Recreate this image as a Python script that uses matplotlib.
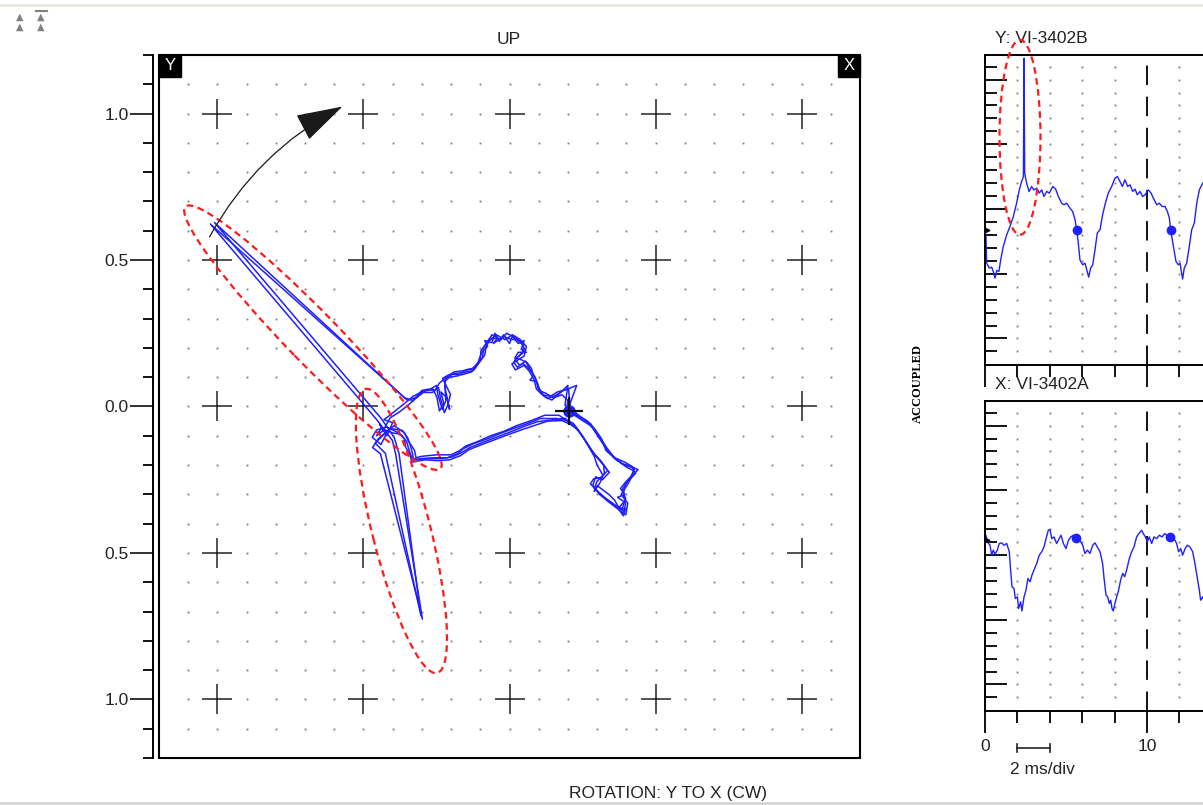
import numpy as np
import matplotlib
matplotlib.use("Agg")
import matplotlib.pyplot as plt
from matplotlib.patches import Ellipse, Rectangle, FancyArrowPatch
from matplotlib.lines import Line2D
from matplotlib.transforms import blended_transform_factory

plt.rcParams["font.family"] = ["Liberation Sans", "DejaVu Sans"]

BLUE = "#2020ff"
RED = "#ff1a1a"

# orbit trace (x, y), four revolutions
orbit_pass1 = np.array([
    (-0.432, -0.082), (-0.415, -0.050), (-0.408, -0.038), (-0.380, -0.021), (-0.349, 0.003),
    (-0.322, 0.027), (-0.295, 0.048), (-0.264, 0.048), (-0.243, 0.065), (-0.236, 0.027),
    (-0.223, -0.021), (-0.212, 0.003), (-0.202, 0.041), (-0.229, 0.096), (-0.212, 0.106),
    (-0.185, 0.113), (-0.158, 0.116), (-0.123, 0.123), (-0.106, 0.147), (-0.092, 0.168),
    (-0.089, 0.199), (-0.072, 0.226), (-0.041, 0.236), (-0.055, 0.215), (-0.020, 0.240),
    (-0.007, 0.233), (0.027, 0.226), (0.048, 0.209), (0.045, 0.182), (0.027, 0.168),
    (0.014, 0.151), (0.027, 0.134), (0.045, 0.147), (0.062, 0.134), (0.079, 0.113),
    (0.096, 0.079), (0.106, 0.048), (0.130, 0.027), (0.158, 0.038), (0.185, 0.055),
    (0.202, 0.062), (0.209, -0.017), (0.243, -0.038), (0.277, -0.058), (0.301, -0.092),
    (0.322, -0.127), (0.346, -0.161), (0.370, -0.185), (0.404, -0.209), (0.425, -0.219),
    (0.414, -0.243), (0.397, -0.264), (0.390, -0.298), (0.397, -0.332), (0.390, -0.373),
    (0.370, -0.346), (0.336, -0.322), (0.301, -0.288), (0.277, -0.264), (0.288, -0.247),
    (0.312, -0.243), (0.336, -0.219), (0.312, -0.185), (0.288, -0.161), (0.267, -0.127),
    (0.243, -0.092), (0.219, -0.058), (0.199, -0.048), (0.164, -0.041), (0.106, -0.041),
    (0.062, -0.058), (0.014, -0.075), (-0.031, -0.092), (-0.075, -0.110), (-0.123, -0.127),
    (-0.158, -0.144), (-0.178, -0.161), (-0.212, -0.175), (-0.260, -0.175), (-0.305, -0.178),
    (-0.329, -0.185), (-0.332, -0.161), (-0.339, -0.134), (-0.349, -0.106), (-0.366, -0.082),
    (-0.408, -0.075), (-0.449, -0.110), (-0.469, -0.140), (-0.442, -0.161), (-0.298, -0.726),
    (-0.390, -0.161), (-0.401, -0.116), (-0.452, -0.048), (-1.024, 0.623), (-0.349, 0.021),
    (-0.322, 0.030),
])
orbit_pass2 = np.array([
    (-0.322, 0.030), (-0.300, 0.055), (-0.270, 0.060), (-0.250, 0.072), (-0.245, 0.040),
    (-0.230, -0.010), (-0.218, 0.020), (-0.222, 0.085), (-0.205, 0.100), (-0.175, 0.105),
    (-0.150, 0.125), (-0.118, 0.132), (-0.100, 0.160), (-0.098, 0.190), (-0.080, 0.215),
    (-0.060, 0.245), (-0.030, 0.228), (-0.010, 0.250), (0.015, 0.238), (0.040, 0.220),
    (0.052, 0.195), (0.035, 0.175), (0.020, 0.160), (0.035, 0.140), (0.055, 0.155),
    (0.070, 0.128), (0.088, 0.100), (0.100, 0.065), (0.118, 0.035), (0.145, 0.022),
    (0.172, 0.045), (0.200, 0.072), (0.190, 0.005), (0.215, -0.025), (0.250, -0.048),
    (0.285, -0.070), (0.310, -0.105), (0.332, -0.140), (0.355, -0.170), (0.385, -0.195),
    (0.418, -0.205), (0.432, -0.228), (0.405, -0.255), (0.385, -0.285), (0.398, -0.315),
    (0.385, -0.350), (0.395, -0.360), (0.360, -0.335), (0.325, -0.310), (0.290, -0.280),
    (0.300, -0.255), (0.325, -0.230), (0.322, -0.200), (0.298, -0.172), (0.275, -0.140),
    (0.252, -0.105), (0.228, -0.070), (0.205, -0.055), (0.170, -0.030), (0.120, -0.030),
    (0.075, -0.048), (0.025, -0.065), (-0.020, -0.085), (-0.065, -0.100), (-0.110, -0.120),
    (-0.150, -0.135), (-0.170, -0.150), (-0.200, -0.165), (-0.250, -0.165), (-0.300, -0.170),
    (-0.320, -0.175), (-0.325, -0.150), (-0.345, -0.120), (-0.360, -0.090), (-0.395, -0.065),
    (-0.430, -0.095), (-0.460, -0.125), (-0.425, -0.160), (-0.303, -0.715), (-0.378, -0.161),
    (-0.395, -0.105), (-0.440, -0.040), (-1.010, 0.628), (-0.360, 0.030), (-0.330, 0.020),
])
orbit_pass3 = np.array([
    (-0.330, 0.020), (-0.310, 0.040), (-0.285, 0.058), (-0.255, 0.055), (-0.240, 0.080),
    (-0.228, 0.090), (-0.195, 0.110), (-0.165, 0.108), (-0.130, 0.118), (-0.112, 0.140),
    (-0.085, 0.175), (-0.080, 0.205), (-0.065, 0.230), (-0.045, 0.245), (-0.015, 0.228),
    (0.010, 0.245), (0.035, 0.230), (0.058, 0.205), (0.050, 0.172), (0.030, 0.160),
    (0.008, 0.145), (0.020, 0.125), (0.050, 0.140), (0.068, 0.120), (0.085, 0.090),
    (0.092, 0.060), (0.112, 0.040), (0.140, 0.035), (0.165, 0.050), (0.195, 0.058),
    (0.230, 0.072), (0.200, -0.010), (0.235, -0.030), (0.268, -0.050), (0.292, -0.085),
    (0.315, -0.120), (0.338, -0.155), (0.362, -0.180), (0.395, -0.200), (0.440, -0.215),
    (0.420, -0.238), (0.402, -0.270), (0.382, -0.300), (0.405, -0.330), (0.398, -0.370),
    (0.378, -0.355), (0.345, -0.330), (0.308, -0.300), (0.285, -0.270), (0.295, -0.240),
    (0.318, -0.250), (0.342, -0.225), (0.305, -0.178), (0.280, -0.150), (0.258, -0.115),
    (0.235, -0.080), (0.210, -0.062), (0.180, -0.048), (0.130, -0.050), (0.085, -0.065),
    (0.040, -0.080), (-0.010, -0.098), (-0.055, -0.115), (-0.100, -0.132), (-0.140, -0.148),
    (-0.168, -0.168), (-0.205, -0.182), (-0.245, -0.185), (-0.290, -0.182), (-0.335, -0.190),
    (-0.340, -0.165), (-0.355, -0.140), (-0.360, -0.110), (-0.380, -0.090), (-0.420, -0.070),
    (-0.455, -0.080), (-0.470, -0.105), (-0.440, -0.130), (-0.420, -0.090), (-0.432, -0.082),
])
orbit_pass4 = np.array([
    (-0.432, -0.082), (-0.445, -0.060), (-0.420, -0.100), (-0.400, -0.055), (-0.430, -0.045),
    (-0.410, -0.030), (-0.385, -0.010), (-0.360, 0.010), (-0.330, 0.035), (-0.300, 0.050),
    (-0.262, 0.060), (-0.248, 0.030), (-0.240, -0.015), (-0.225, 0.010), (-0.235, 0.050),
    (-0.215, 0.030), (-0.205, -0.010), (-0.222, 0.070), (-0.218, 0.100), (-0.190, 0.118),
    (-0.160, 0.122), (-0.128, 0.128), (-0.108, 0.150), (-0.095, 0.185), (-0.075, 0.205),
    (-0.085, 0.225), (-0.060, 0.218), (-0.050, 0.250), (-0.035, 0.222), (-0.020, 0.245),
    (0.000, 0.215), (0.010, 0.240), (0.030, 0.215), (0.050, 0.225), (0.040, 0.195),
    (0.058, 0.185), (0.030, 0.185), (0.018, 0.165), (0.040, 0.160), (0.060, 0.150),
    (0.075, 0.130), (0.082, 0.105), (0.070, 0.090), (0.092, 0.085), (0.100, 0.055),
    (0.125, 0.045), (0.150, 0.030), (0.180, 0.040), (0.200, 0.020), (0.195, -0.010),
    (0.215, -0.005), (0.205, -0.030), (0.225, -0.020), (0.255, -0.045), (0.290, -0.075),
    (0.315, -0.110), (0.330, -0.150), (0.360, -0.175), (0.395, -0.190), (0.428, -0.210),
    (0.420, -0.235), (0.400, -0.255), (0.380, -0.280), (0.395, -0.300), (0.370, -0.310),
    (0.392, -0.325), (0.375, -0.345), (0.400, -0.350), (0.385, -0.365), (0.360, -0.320),
    (0.340, -0.300), (0.300, -0.270), (0.290, -0.290), (0.310, -0.260), (0.320, -0.235),
    (0.300, -0.200), (0.290, -0.170), (0.270, -0.135), (0.250, -0.100), (0.225, -0.072),
    (0.190, -0.040), (0.150, -0.045), (0.095, -0.052), (0.050, -0.068), (0.000, -0.088),
    (-0.045, -0.105), (-0.090, -0.122), (-0.135, -0.140), (-0.165, -0.158), (-0.195, -0.172),
    (-0.235, -0.178), (-0.280, -0.178), (-0.318, -0.180), (-0.335, -0.175), (-0.345, -0.145),
    (-0.352, -0.120), (-0.372, -0.095), (-0.400, -0.090), (-0.440, -0.075), (-0.455, -0.100),
    (-0.432, -0.082),
])
orbit_keyphasor = (0.205, -0.014)

# (centre x, centre y, length, width, angle deg)
orbit_ellipses = [(-0.673, 0.235, 1.25, 0.175, -45.7), (-0.370, -0.425, 1.0, 0.199, -75.8)]

# arrow start / end
arrow_start = (-1.027, 0.579)
arrow_end = (-0.572, 1.024)

y_ticks_major = [-1.0, -0.5, 0.0, 0.5, 1.0]
y_tick_labels = ["1.0", "0.5", "0.0", "0.5", "1.0"]

# waveforms: (time ms, amplitude in divisions)
wave_y = np.array([
    (0.00, 9.01), (0.06, 9.01), (0.10, 6.82), (0.27, 6.44), (0.41, 6.51), (0.51, 6.18),
    (0.62, 5.66), (0.72, 6.25), (0.86, 6.18), (0.97, 7.08), (1.13, 8.11), (1.34, 9.01),
    (1.54, 9.65), (1.75, 10.42), (1.95, 11.45), (2.12, 12.48), (2.26, 13.13), (2.37, 13.51),
    (2.41, 22.65), (2.45, 13.77), (2.57, 13.00), (2.72, 12.36), (2.88, 12.74), (3.02, 12.48),
    (3.19, 12.61), (3.35, 12.23), (3.50, 12.48), (3.64, 11.97), (3.81, 12.36), (3.97, 12.23),
    (4.18, 12.74), (4.36, 12.54), (4.53, 11.97), (4.73, 11.45), (4.88, 11.33), (5.04, 11.45),
    (5.25, 11.07), (5.41, 10.81), (5.56, 10.17), (5.66, 9.40), (5.76, 8.37), (5.86, 7.08),
    (6.03, 6.69), (6.17, 6.82), (6.28, 6.31), (6.40, 5.74), (6.52, 6.44), (6.65, 6.69),
    (6.79, 7.85), (6.93, 9.14), (7.10, 9.40), (7.26, 10.55), (7.43, 11.45), (7.61, 12.23),
    (7.82, 12.74), (8.02, 13.38), (8.17, 13.51), (8.33, 13.13), (8.48, 12.74), (8.64, 13.26),
    (8.81, 12.74), (8.95, 12.87), (9.12, 12.36), (9.26, 12.54), (9.40, 12.10), (9.57, 12.36),
    (9.73, 11.97), (9.88, 12.10), (10.08, 12.48), (10.25, 12.23), (10.39, 11.84), (10.60, 11.33),
    (10.76, 11.45), (10.93, 11.20), (11.11, 11.20), (11.26, 10.81), (11.38, 10.30), (11.46, 9.40),
    (11.63, 8.11), (11.79, 6.95), (11.93, 6.69), (12.04, 6.82), (12.12, 6.18), (12.20, 5.59),
    (12.30, 6.44), (12.45, 6.82), (12.61, 8.11), (12.76, 9.40), (12.92, 9.91), (13.07, 11.45),
    (13.23, 12.48), (13.44, 13.00), (13.68, 13.26),
])
wave_x = np.array([
    (0.00, 12.20), (0.06, 12.53), (0.14, 12.02), (0.31, 11.76), (0.41, 10.99), (0.51, 11.38),
    (0.62, 11.07), (0.76, 11.38), (0.88, 11.89), (1.03, 11.94), (1.17, 11.76), (1.34, 11.89),
    (1.50, 11.25), (1.58, 9.83), (1.67, 8.54), (1.79, 8.42), (1.87, 7.64), (2.00, 7.77),
    (2.08, 6.87), (2.20, 7.38), (2.28, 6.68), (2.41, 7.77), (2.53, 8.29), (2.65, 9.19),
    (2.78, 8.93), (2.90, 9.45), (3.02, 9.83), (3.19, 10.34), (3.35, 10.99), (3.50, 11.25),
    (3.64, 11.63), (3.77, 12.27), (3.91, 12.92), (4.01, 12.97), (4.12, 12.27), (4.26, 12.40),
    (4.42, 11.89), (4.55, 12.20), (4.69, 12.53), (4.84, 11.89), (5.00, 11.50), (5.14, 12.10),
    (5.29, 12.40), (5.45, 12.53), (5.62, 12.14), (5.76, 12.45), (5.91, 12.02), (6.03, 11.76),
    (6.17, 11.12), (6.32, 11.38), (6.48, 11.12), (6.65, 11.76), (6.79, 11.94), (6.93, 11.63),
    (7.10, 11.25), (7.26, 10.34), (7.35, 9.19), (7.47, 7.90), (7.57, 7.77), (7.67, 7.26),
    (7.76, 7.51), (7.84, 6.87), (7.92, 6.68), (8.02, 7.26), (8.13, 7.77), (8.25, 8.29),
    (8.37, 9.06), (8.50, 9.58), (8.62, 9.32), (8.74, 9.83), (8.91, 10.73), (9.05, 11.25),
    (9.20, 11.63), (9.36, 12.40), (9.53, 12.71), (9.67, 12.92), (9.77, 12.66), (9.90, 12.40),
    (10.02, 12.02), (10.14, 12.40), (10.29, 11.89), (10.43, 12.40), (10.60, 12.27), (10.76, 12.53),
    (10.93, 12.40), (11.09, 12.66), (11.21, 12.53), (11.38, 12.14), (11.52, 12.53), (11.67, 12.27),
    (11.83, 11.89), (11.95, 11.25), (12.08, 11.50), (12.20, 10.99), (12.35, 11.50), (12.49, 11.76),
    (12.65, 11.63), (12.82, 11.25), (12.96, 10.34), (13.11, 9.19), (13.23, 8.29), (13.31, 7.51),
    (13.44, 7.77), (13.58, 7.26),
])
kp_y = [(5.66, 9.40), (11.46, 9.40)]
kp_x = [(5.62, 12.35), (11.40, 12.40)]
zero_y = 9.40
zero_x = 12.15
spike_ellipse = (2.16, 16.54, 2.53, 15.06)  # centre t, centre amp, width, height

fig = plt.figure(figsize=(12.03, 8.05), dpi=100)
W, H = 1203, 805

# ---------------- orbit plot ----------------
ax = fig.add_axes([159 / W, 1 - 758 / H, 701 / W, 703 / H])
ax.set_xlim(-1.2, 1.2)
ax.set_ylim(-1.2, 1.2)

# dotted grid + crosses
g = np.round(np.arange(-11, 12) / 10, 2)
gx, gy = np.meshgrid(g, g)
cross = (np.isclose(gx * 2, np.round(gx * 2))) & (np.isclose(gy * 2, np.round(gy * 2)))
ax.plot(gx[~cross], gy[~cross], "s", color="#7a7a7a", ms=1.3, mew=0, zorder=1)
c = [-1.0, -0.5, 0.0, 0.5, 1.0]
cx, cy = np.meshgrid(c, c)
ax.plot(cx.ravel(), cy.ravel(), "+", color="#222222", ms=21, mew=1.1, zorder=1)

for p in (orbit_pass1, orbit_pass2, orbit_pass3, orbit_pass4):
    ax.plot(p[:, 0], p[:, 1], color=BLUE, lw=1.1, zorder=3)
ax.plot(*orbit_keyphasor, "o", color=BLUE, ms=8, zorder=4)
ax.plot(*orbit_keyphasor, "+", color="#111111", ms=20, mew=1.6, zorder=4)

for ex, ey, ew, eh, ang in orbit_ellipses:
    ax.add_patch(Ellipse((ex, ey), ew, eh, angle=ang, fill=False, ec=RED,
                         lw=1.6, ls=(0, (3, 2)), zorder=5))

ax.add_patch(FancyArrowPatch(arrow_start, arrow_end, connectionstyle="arc3,rad=-0.15",
                             arrowstyle="-|>,head_length=30,head_width=9", mutation_scale=1,
                             color="#1a1a1a", lw=0.9, shrinkA=0, shrinkB=0, zorder=6))

for s in ("top", "right", "bottom"):
    ax.spines[s].set_visible(False)
ax.spines["left"].set_position(("outward", 4.3))
ax.spines["left"].set_linewidth(1.4)
ax.add_patch(Rectangle((0, 0), 1, 1, transform=ax.transAxes, fill=False, ec="black",
                       lw=1.5, clip_on=False, zorder=7))
ax.set_xticks([])
ax.set_yticks(y_ticks_major)
ax.set_yticklabels(y_tick_labels)
ax.set_yticks(np.round(np.arange(-12, 13) / 10, 2), minor=True)
ax.tick_params(axis="y", which="major", length=16.5, width=1.3, pad=1, labelsize=12.5,
               colors="#222222")
ax.tick_params(axis="y", which="minor", length=7.2, width=1.3)

bw, bh = 22 / 701, 22 / 703
ax.add_patch(Rectangle((0, 1 - bh), bw, bh, transform=ax.transAxes, color="black",
                       clip_on=False, zorder=8))
ax.text(bw / 2, 1 - bh / 2, "Y", transform=ax.transAxes, color="white", ha="center",
        va="center", fontsize=12, zorder=9)
ax.add_patch(Rectangle((1 - bw, 1 - bh), bw, bh, transform=ax.transAxes, color="black",
                       clip_on=False, zorder=8))
ax.text(1 - bw / 2, 1 - bh / 2, "X", transform=ax.transAxes, color="white", ha="center",
        va="center", fontsize=12, zorder=9)

fig.text(509 / W, 1 - 40 / H, "UP", ha="center", va="center", fontsize=12.5, color="#222222")
fig.text(668 / W, 1 - 793 / H, "ROTATION: Y TO X (CW)", ha="center", va="center",
         fontsize=12.5, color="#222222")
fig.text(918 / W, 1 - 383 / H, "ACCOUPLED", rotation=90, ha="center", va="center",
         fontsize=9, fontweight="bold", family=["Liberation Serif", "DejaVu Serif"])


# ---------------- waveform panels ----------------
def scope(bottom_px, wave, kp, zero, label, labels_on):
    a = fig.add_axes([985 / W, 1 - bottom_px / H, 20 * 16.2 / W, 310 / H])
    a.set_xlim(0, 20)
    a.set_ylim(-1.05, 22.9)
    tx, ty = np.meshgrid([2, 4, 6, 8, 12, 14, 16, 18], np.arange(23))
    a.plot(tx.ravel(), ty.ravel(), "s", color="#7a7a7a", ms=1.3, mew=0)
    a.axvline(10, color="#111111", lw=1.4, dashes=(10, 6))
    a.plot(wave[:, 0], wave[:, 1], color=BLUE, lw=1.0)
    a.plot([k[0] for k in kp], [k[1] for k in kp], "o", color=BLUE, ms=6)
    a.plot([0.15], [zero], ">", color="black", ms=3.5, clip_on=False)
    a.spines["right"].set_visible(False)
    for s in ("left", "top", "bottom"):
        a.spines[s].set_linewidth(1.4)
    a.set_yticks([1, 6, 11, 16, 21])
    a.set_yticks(np.arange(23), minor=True)
    a.set_xticks([0, 10, 20])
    a.set_xticklabels(["0", "10", ""])
    a.set_xticks(np.arange(2, 20, 2), minor=True)
    a.tick_params(axis="y", which="major", direction="in", length=16, width=1.3, labelleft=False)
    a.tick_params(axis="y", which="minor", direction="in", length=8.5, width=1.3)
    a.tick_params(axis="x", which="major", direction="out", length=16, width=1.3, pad=4,
                  labelsize=12.5, labelbottom=labels_on, labelcolor="#222222")
    a.tick_params(axis="x", which="minor", direction="out", length=8.5, width=1.3)
    a.text(0.6, 22.9 + 1.25, label, fontsize=12.5, color="#222222", va="center", ha="left")
    return a


ax_y = scope(365, wave_y, kp_y, zero_y, "Y: VI-3402B", False)
ax_x = scope(711, wave_x, kp_x, zero_x, "X: VI-3402A", True)

ax_y.add_patch(Ellipse(spike_ellipse[:2], spike_ellipse[2], spike_ellipse[3], fill=False,
                       ec=RED, lw=1.6, ls=(0, (3, 2)), clip_on=False, zorder=5))

tr = blended_transform_factory(ax_x.transData, ax_x.transAxes)
ax_x.plot([2, 4], [-0.119, -0.119], color="#222222", lw=1.2, transform=tr, clip_on=False)
ax_x.plot([2, 2], [-0.105, -0.133], color="#222222", lw=1.2, transform=tr, clip_on=False)
ax_x.plot([4, 4], [-0.105, -0.133], color="#222222", lw=1.2, transform=tr, clip_on=False)
ax_x.text(1.55, -0.19, "2 ms/div", transform=tr, fontsize=12.5, color="#222222",
          ha="left", va="center")

# window decorations
fig.add_artist(Line2D([0, 1], [1 - 5 / H] * 2, color="#e8e8dc", lw=2))
fig.add_artist(Line2D([0, 1], [1 - 803 / H] * 2, color="#d4d4d4", lw=2))
for xi in (20, 41):
    fig.text(xi / W, 1 - 17 / H, "\u25b2", color="#808080", fontsize=7, ha="center", va="center",
             family="DejaVu Sans")
    fig.text(xi / W, 1 - 27 / H, "\u25b2", color="#808080", fontsize=7, ha="center", va="center",
             family="DejaVu Sans")
fig.add_artist(Line2D([36 / W, 47 / W], [1 - 11 / H] * 2, color="#808080", lw=1.5))

fig.savefig("out.png", dpi=100)
